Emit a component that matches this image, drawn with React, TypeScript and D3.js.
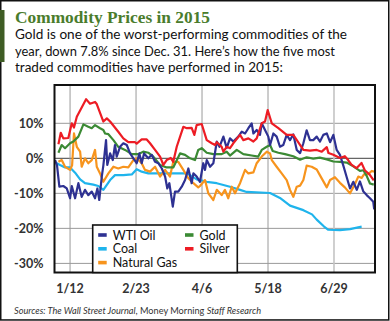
import React from "react";
import * as d3 from "d3";

// Day-of-year (Jan 1 = 1) and percent change since Dec. 31
const tickDays = [12, 54, 96, 138, 180];
const tickLabels = ["1/12", "2/23", "4/6", "5/18", "6/29"];
const yTicks = [10, 0, -10, -20, -30];

const wtiOil: [number, number][] = [
  [2.5, -0.5], [3.7, -2.0], [5.2, -8.1], [7.7, -7.9], [9.9, -8.6], [12, -11.4], [13.1, -7.9], [15.2, -11.4],
  [17.3, -7.1], [19.4, -11.0], [21.5, -9.0], [23.6, -10.5], [25.8, -9.5], [27.9, -11.4], [29.4, -8.6],
  [30.6, -11.9], [32.2, -5.2], [33.2, -2.0], [34.9, 5.2], [35.7, -1.9], [37.5, 1.4], [39.2, -0.5], [40.6, 3.8],
  [41.7, 0.5], [43.8, 3.3], [45.9, 4.3], [48.1, 3.8], [50.2, 1.4], [52.3, 0], [54.4, -1.4], [56.1, 1.4],
  [57.6, -1.4], [59.1, 1.4], [61.8, 0], [64, 1.0], [66.1, -1.0], [68.2, -1.4], [70.4, -2.9], [72.5, -5.2],
  [73.9, -8.6], [75.2, -7.1], [77.4, -13.8], [78.8, -9.5], [80.9, -9.5], [83.1, -8.1], [85.2, -6.2],
  [87.3, -2.9], [89.4, -7.1], [90.5, -4.3], [92.6, -5.2], [94.7, -6.7], [96.8, -1.4], [97.9, -3.3],
  [99, -0.5], [101.1, -2.4], [103.2, -1.4], [105.4, 4.8], [107.1, 3.3], [109.6, 6.2], [111.7, 3.0],
  [113.8, 5.7], [115.9, 4.8], [119.1, 6.2], [121.3, 7.6], [123.4, 7.1], [125.5, 8.6], [127.6, 10.0],
  [128.7, 7.1], [130.8, 8.1], [132.9, 6.7], [134, 10.0], [136.1, 8.1], [138.2, 6.2], [139.3, 3.8],
  [141.4, 7.1], [143.5, 6.2], [145.6, 3.3], [147.7, 3.8], [149.9, 6.7], [152, 5.2], [154.1, 6.8],
  [156.3, 2.4], [158.4, 1.5], [160.5, 4.3], [162.6, 8.0], [164.7, 5.2], [166.8, 5.2], [169, 6.2],
  [171.1, 4.8], [173.2, 6.7], [175.4, 7.1], [177.5, 4.6], [179.6, 6.7], [181.7, 2.4], [183.8, 1.0],
  [185.9, -2.0], [188.1, -5.4], [190.2, -8.6], [192.3, -6.7], [194.5, -9.0], [196.5, -6.6], [198.7, -9.5],
  [200.8, -10.5], [202.9, -11.4], [205, -12.4], [205.6, -14.6],
];

const coal: [number, number][] = [
  [3.5, -1.4], [5.6, -1.9], [8.8, -2.6], [12, -2.6], [15.2, -4.1], [18.4, -6.0], [21.5, -7.1], [26.8, -7.5],
  [30, -7.9], [33.2, -9.0], [37.5, -6.2], [40.6, -4.8], [45.9, -4.8], [51.3, -4.6], [54.4, -3.1],
  [57.6, -3.8], [61.8, -4.3], [69.3, -4.3], [77.7, -4.3], [86.3, -4.3], [88.4, -4.8], [92.6, -6.0],
  [99, -6.7], [105.4, -7.1], [113.8, -8.1], [120.2, -9.0], [124.4, -9.6], [139.3, -9.9], [145.6, -11.3],
  [152, -13.5], [160.5, -14.8], [166, -16.0], [169, -17.5], [173.5, -19.4], [176.4, -20.4], [183.8, -20.5],
  [190.2, -20.2], [197.6, -19.5],
];

const naturalGas: [number, number][] = [
  [4.6, -1.0], [6.7, -0.5], [8.8, -2.4], [12, -3.3], [13.3, -2.0], [14.5, 7.1], [16.3, 3.3], [18.4, 1.9],
  [19.4, -2.4], [21.5, 0], [23.6, -1.4], [25.8, -0.5], [27.9, 2.4], [29, -2.4], [31.1, -4.3], [33.2, -6.7],
  [36.4, -4.3], [39.6, -2.4], [42.7, -2.9], [45.9, -2.4], [49.1, -2.6], [52.3, -0.5], [54.4, 0],
  [57.6, -1.4], [59.7, -3.3], [62.9, -3.8], [66.1, -2.4], [69.3, -5.2], [72.5, -3.3], [75.6, -5.2],
  [77.7, -1.0], [80.9, -1.0], [84.1, -3.3], [87.3, -5.7], [90.5, -7.1], [93.6, -8.3], [94.7, -7.9],
  [97.9, -6.2], [100, -10.0], [103.2, -11.9], [105.4, -9.0], [108.5, -10.5], [110.6, -9.0], [112.7, -11.4],
  [114.9, -8.1], [117, -10.0], [120.2, -7.1], [123.4, -3.3], [125.5, -4.3], [128.7, -4.0], [130.8, -1.4],
  [134, 0.5], [137.2, 1.9], [139.3, 1.4], [140.4, -0.5], [143.5, -2.4], [146.7, -4.3], [149.9, -6.2],
  [152, -9.0], [154.1, -11.0], [156.3, -8.1], [158.4, -7.8], [160.5, -6.2], [162.6, -2.1], [165.8, -2.4],
  [169, -3.2], [171, -4.8], [175.4, -8.3], [177.5, -6.2], [180.6, -5.4], [183.8, -7.0], [186.9, -8.3],
  [190.2, -10.0], [193.4, -7.3], [195.5, -5.2], [197.6, -5.6], [199.1, -4.6], [201.8, -4.5], [204, -3.6],
  [205.5, -3.8],
];

const gold: [number, number][] = [
  [4.6, 1.6], [6.7, 3.8], [8.8, 2.9], [12, 4.3], [14.1, 4.8], [17.3, 6.2], [20.5, 9.7], [23.6, 9.0],
  [25.8, 8.6], [27.9, 9.5], [31.1, 8.6], [33.2, 8.1], [34.3, 7.1], [36.4, 6.9], [39.6, 5.2], [42.7, 3.3],
  [47, 2.4], [51.3, 1.2], [55.5, 1.2], [58.6, 1.9], [61.8, 1.6], [65, 0.5], [69.3, -1.9], [73.5, -2.6],
  [77.7, -2.6], [82, 1.4], [85.2, 1.0], [88.4, 0], [91.5, -0.5], [93.6, 2.4], [95.8, 2.9], [99, 1.6],
  [103.2, 1.2], [108.5, 1.2], [111.7, 1.9], [113.8, 0.8], [118.1, 2.4], [122.3, 1.2], [127.6, 0.8],
  [131.8, 0.5], [134, 2.4], [137.2, 3.3], [139.3, 3.8], [141, 2.1], [144.6, 1.6], [148.8, 1.2],
  [154.1, 0.6], [158.4, -0.4], [162.6, 0.3], [166.8, -0.1], [171, 0.2], [175.4, -0.3], [179.6, -0.9],
  [183.8, -1.0], [188.1, -1.2], [192.3, -2.3], [196.5, -3.6], [198.7, -3.4], [200.8, -5.0], [202.9, -7.2],
  [205.3, -7.5],
];

const silver: [number, number][] = [
  [4.6, 4.0], [6.1, 7.3], [7.7, 5.7], [10.9, 5.8], [13.1, 10.0], [14.5, 8.8], [16.3, 11.9], [22.2, 16.9],
  [24.7, 15.6], [27.9, 16.1], [29, 15.5], [33.2, 10.5], [35.4, 11.4], [37.5, 10.5], [42.7, 7.6],
  [45.9, 5.7], [49.1, 4.6], [53.4, 4.6], [54.4, 4.2], [57.6, 5.4], [60.8, 5.4], [62.9, 4.3], [66.1, 2.4],
  [69.3, 0.5], [71.4, -1.9], [73.5, -0.5], [76.1, 0.1], [77.7, -1.0], [79.9, 3.3], [84.1, 9.0],
  [86.3, 8.6], [89.4, 8.7], [91.1, 6.7], [92.6, 9.5], [95.8, 9.8], [99, 5.2], [102.2, 4.3], [104.3, 3.8],
  [105.4, 4.6], [108.5, 3.3], [109.6, 1.9], [111.7, 3.3], [113.8, 2.9], [115.9, 4.3], [120.2, 6.7],
  [122.3, 5.2], [125.5, 5.7], [128.7, 4.8], [130.8, 5.7], [134, 10.0], [136.1, 10.5], [137.8, 13.8],
  [140.4, 10.0], [144.6, 8.6], [149.9, 6.7], [154.1, 6.7], [160.5, 2.4], [164.7, 2.2], [169, 2.4],
  [172.2, 1.9], [175.4, 3.2], [176.5, 1.5], [179.6, 1.0], [183.8, 0.1], [186.9, 0.6], [189, -0.5],
  [191.1, -1.8], [194.3, -2.8], [197.5, -1.3], [199.6, -3.4], [202.8, -4.7], [205.3, -6.3],
];

const seriesNames = ["WTI Oil", "Coal", "Natural Gas", "Gold", "Silver"];
const seriesColors = ["#2e3192", "#1fb4ec", "#f7941d", "#3b8a34", "#ed1c24"];
const seriesData = [wtiOil, coal, naturalGas, gold, silver];
const drawOrder = [1, 2, 3, 0, 4];

const subtitleLines = [
  "Gold is one of the worst-performing commodities of the",
  "year, down 7.8% since Dec. 31. Here\u2019s how the five most",
  "traded commodities have performed in 2015:",
];

export default function App() {
  const W = 390;
  const H = 321;
  const plot = { left: 54.5, right: 375, top: 85, bottom: 272.5 };
  const x = d3.scaleLinear().domain([2.1, 206.1]).range([plot.left, plot.right]);
  const y = d3.scaleLinear().domain([-32.6, 20.94]).range([plot.bottom, plot.top]);
  const line = d3
    .line<[number, number]>()
    .x((d) => x(d[0]))
    .y((d) => y(d[1]));

  const sans = "Lato, 'Open Sans', sans-serif";
  const legendX = 92.7;
  const legendY = 225;
  const legendItems = [
    { i: 0, col: 0, row: 0 },
    { i: 1, col: 0, row: 1 },
    { i: 2, col: 0, row: 2 },
    { i: 3, col: 1, row: 0 },
    { i: 4, col: 1, row: 1 },
  ];

  return (
    <svg
      width={W}
      height={H}
      style={{ position: "absolute", left: 0, top: 0, background: "#fff" }}
    >
      <rect x={0.75} y={0.75} width={W - 2} height={H - 1.8} fill="#fff" stroke="#111" strokeWidth={1.5} />
      <rect x={0} y={10} width={4.5} height={52} fill="#3e5c24" />
      <text
        x={15}
        y={22.5}
        fontFamily="'Liberation Serif', 'DejaVu Serif', serif"
        fontWeight="bold"
        fontSize={17.5}
        fill="#4a7c2c"
        textLength={195}
        lengthAdjust="spacingAndGlyphs"
      >
        Commodity Prices in 2015
      </text>
      {subtitleLines.map((t, k) => (
        <text
          key={k}
          x={15}
          y={39.3 + k * 16.2}
          fontFamily={sans}
          fontSize={13.5}
          fill="#111"
          textLength={[332, 320, 268][k]}
          lengthAdjust="spacingAndGlyphs"
        >
          {t}
        </text>
      ))}

      {/* gridlines */}
      {yTicks.map((t) => (
        <line
          key={"gy" + t}
          x1={plot.left}
          x2={plot.right}
          y1={y(t)}
          y2={y(t)}
          stroke={t === 0 ? "#666" : "#9a9a9a"}
          strokeWidth={t === 0 ? 1.4 : 1}
        />
      ))}
      {tickDays.map((d, k) => (
        <line
          key={"gx" + d}
          x1={x(d)}
          x2={x(d)}
          y1={plot.top}
          y2={plot.bottom}
          stroke={k === 4 ? "#c4c4c4" : "#9a9a9a"}
          strokeWidth={k === 4 ? 1.6 : 1}
        />
      ))}

      {/* series */}
      {drawOrder.map((i) => (
        <path
          key={seriesNames[i]}
          d={line(seriesData[i]) || ""}
          fill="none"
          stroke={seriesColors[i]}
          strokeWidth={2.2}
          strokeLinejoin="round"
        />
      ))}

      {/* frame */}
      <rect
        x={plot.left}
        y={plot.top}
        width={plot.right - plot.left}
        height={plot.bottom - plot.top}
        fill="none"
        stroke="#111"
        strokeWidth={2}
      />

      {/* y labels */}
      {yTicks.map((t) => (
        <text
          key={"ty" + t}
          x={43.5}
          y={y(t)}
          dy="0.36em"
          textAnchor="end"
          fontFamily={sans}
          fontWeight="bold"
          fontSize={12.5}
          fill="#333"
        >
          {t + "%"}
        </text>
      ))}
      {/* x labels */}
      {tickDays.map((d, k) => (
        <text
          key={"tx" + d}
          x={x(d)}
          y={292.5}
          textAnchor="middle"
          fontFamily={sans}
          fontWeight="bold"
          fontSize={12.5}
          fill="#333"
        >
          {tickLabels[k]}
        </text>
      ))}

      {/* legend */}
      <rect
        x={legendX}
        y={legendY}
        width={144.6}
        height={plot.bottom - legendY}
        fill="#fff"
        stroke="#111"
        strokeWidth={1.6}
      />
      {legendItems.map(({ i, col, row }) => {
        const sx = legendX + 5.5 + col * 86.8;
        const cy = legendY + 10 + row * 13.8;
        return (
          <g key={"lg" + i}>
            <rect x={sx} y={cy - 1.8} width={8.5} height={3.6} fill={seriesColors[i]} />
            <text
              x={sx + 14.5}
              y={cy}
              dy="0.36em"
              fontFamily={sans}
              fontSize={12.5}
              fill="#111"
            >
              {seriesNames[i]}
            </text>
          </g>
        );
      })}

      {/* source */}
      <text x={14} y={314.3} fontFamily={sans} fontSize={9.5} fill="#333" textLength={247} lengthAdjust="spacingAndGlyphs">
        <tspan fontStyle="italic">Sources: The Wall Street Journal</tspan>
        <tspan>, Money Morning </tspan>
        <tspan fontStyle="italic">Staff Research</tspan>
      </text>
    </svg>
  );
}
